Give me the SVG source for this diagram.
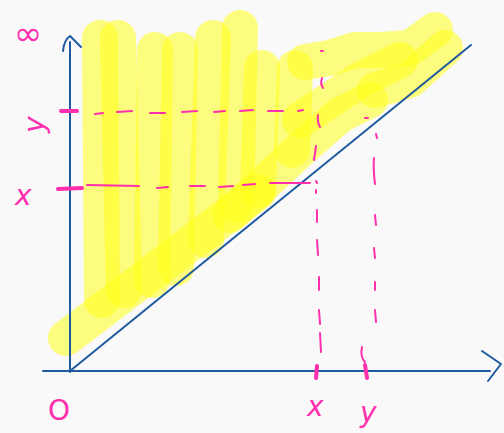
<svg xmlns="http://www.w3.org/2000/svg" width="504" height="433" viewBox="0 0 504 433">
<style>
.hl{fill:none;stroke:#ffff1a;stroke-opacity:0.55;stroke-width:36;stroke-linecap:round;stroke-linejoin:round}
.ax{fill:none;stroke:#1f5aa0;stroke-width:2;stroke-linecap:round;stroke-linejoin:round}
.pk{fill:none;stroke:#ff2fae;stroke-width:2;stroke-linecap:round}
.pkt{fill:none;stroke:#ff2fae;stroke-width:4;stroke-linecap:round}
.lb{fill:#ff2fae;font-family:"DejaVu Sans",sans-serif;font-size:28px;font-style:italic}
</style>
<rect width="504" height="433" fill="#f9f9f9"/>
<g id="highlight">
<path class="hl" d="M100 38 L102 300"/>
<path class="hl" d="M118 38 L124 290"/>
<path class="hl" d="M155 50 L152 280"/>
<path class="hl" d="M180 50 L176 268"/>
<path class="hl" d="M213 38 L206 240"/>
<path class="hl" d="M240 28 L236 205"/>
<path class="hl" d="M262 68 L258 190"/>
<path class="hl" d="M295 68 L292 150"/>
<path class="hl" d="M66 338 L258 192"/>
<path class="hl" d="M230 215 L300 150 L340 115 L370 100"/>
<path class="hl" d="M305 62 L330 58 L355 50 L380 50 L410 48 L435 30"/>
<path class="hl" d="M300 120 L330 100 L360 80 L400 60"/>
<path class="hl" d="M375 90 L410 80 L445 48"/>
</g>
<g id="axes">
<path class="ax" d="M70 372 L70 42"/>
<path class="ax" d="M63 51 Q64 40 70 36 L81 47"/>
<path class="ax" d="M43 371 L490 371"/>
<path class="ax" d="M482 351 L501 364 L488 381"/>
<path class="ax" d="M70 371 L471 45"/>
</g>
<g id="guides">
<path class="pkt" d="M61 111 L77 111"/>
<path class="pk" d="M95 114 L103 113 M117 112 L132 111 M150 113 L165 113 M182 112 L197 111 M214 112 L225 111 M240 111 L253 110 M268 111 L283 111 M298 111 L303 110"/>
<path class="pkt" d="M58 189 L82 188"/>
<path class="pk" d="M87 185 L139 186 M157 188 L168 187 M190 186 L205 186 M219 187 L233 186 M243 185 L255 184 M270 183 L310 183"/>
<path class="pk" d="M321 51 L323 51 M322 78 Q320 84 323 88 M318 115 Q317 122 320 127 M316 146 L314 160 M316 181 L317 183 M316 190 L316 193 M317 210 L317 222 M317 240 L318 255 M319 277 L319 290 M319 310 L320 324 M320 333 L321 352"/>
<path class="pkt" d="M317 366 L316 378"/>
<path class="pk" d="M365 118 L368 118 M376 134 L377 138 M374 158 Q373 168 375 184 M375 215 L376 225 M374 248 L375 258 M375 282 L375 290 M375 310 L376 322 M362 347 Q360 357 365 362"/>
<path class="pkt" d="M365 365 L367 378"/>
</g>
<g id="labels">
<text class="lb" x="14" y="45" style="font-size:34px;font-style:normal">∞</text>
<text class="lb" x="44" y="133" transform="rotate(-90 44 133)">y</text>
<text class="lb" x="15" y="205">x</text>
<text class="lb" x="48" y="420" style="font-style:normal">O</text>
<text class="lb" x="307" y="416">x</text>
<text class="lb" x="360" y="422">y</text>
</g>
</svg>
